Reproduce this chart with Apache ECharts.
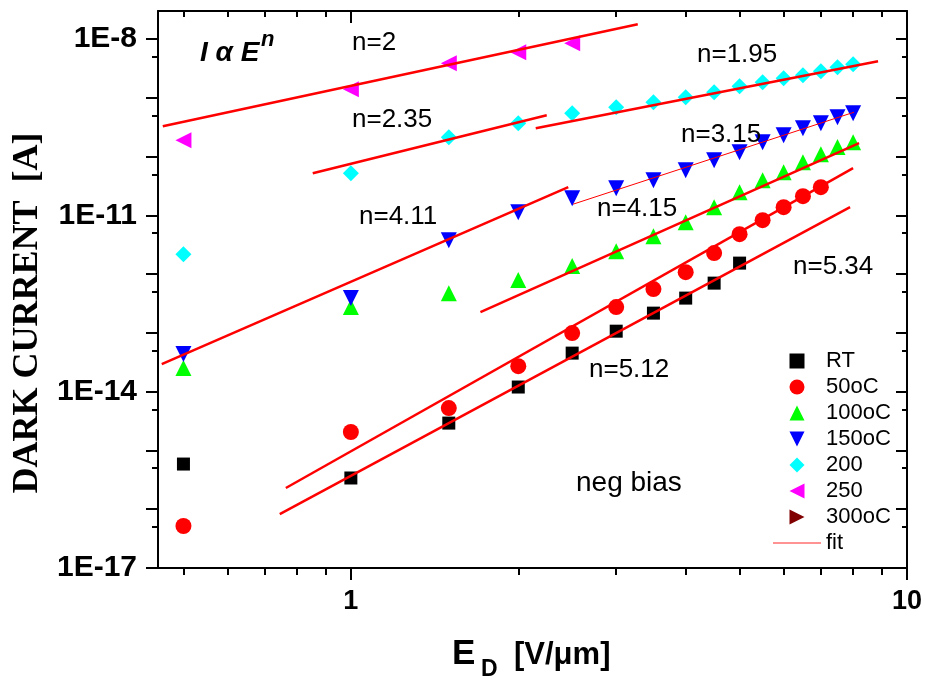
<!DOCTYPE html>
<html><head><meta charset="utf-8">
<script src="https://cdn.jsdelivr.net/npm/echarts@6/dist/echarts.min.js"></script>
<style>html,body{margin:0;padding:0;background:#fff}#c{width:925px;height:681px}</style>
</head><body><div id="c"></div>
<script>
// ---- data (E in V/um, I in A) ----
const E_RT  = [0.5,1,1.5,2,2.5,3,3.5,4,4.5,5];
const I_RT  = [5.87e-16,3.40e-16,2.92e-15,1.20e-14,4.53e-14,1.07e-13,2.17e-13,3.91e-13,7.03e-13,1.54e-12];
const E_50  = [0.5,1,1.5,2,2.5,3,3.5,4,4.5,5,5.5,6,6.5,7];
const I_50  = [5.18e-17,2.06e-15,5.26e-15,2.72e-14,9.93e-14,2.75e-13,5.56e-13,1.08e-12,2.28e-12,4.79e-12,8.28e-12,1.38e-11,2.12e-11,3.02e-11];
const E_100 = [0.5,1,1.5,2,2.5,3,3.5,4,4.5,5,5.5,6,6.5,7,7.5,8];
const I_100 = [2.52e-14,2.75e-13,4.75e-13,7.91e-13,1.37e-12,2.46e-12,4.43e-12,7.66e-12,1.38e-11,2.48e-11,3.97e-11,5.43e-11,8.04e-11,1.10e-10,1.45e-10,1.76e-10];
const E_150 = [0.5,1,1.5,2,2.5,3,3.5,4,4.5,5,5.5,6,6.5,7,7.5,8];
const I_150 = [4.36e-14,3.91e-13,3.78e-12,1.13e-11,1.96e-11,2.90e-11,3.97e-11,5.87e-11,8.69e-11,1.19e-10,1.76e-10,2.31e-10,3.04e-10,3.70e-10,4.68e-10,5.47e-10];
const E_200 = [0.5,1,1.5,2,2.5,3,3.5,4,4.5,5,5.5,6,6.5,7,7.5,8];
const I_200 = [2.19e-12,5.22e-11,2.14e-10,3.70e-10,5.47e-10,6.92e-10,8.41e-10,1.02e-9,1.24e-9,1.57e-9,1.84e-9,2.15e-9,2.42e-9,2.83e-9,3.31e-9,3.72e-9];
const E_250 = [0.5,1,1.5,2,2.5];
const I_250 = [1.90e-10,1.40e-9,3.87e-9,5.97e-9,8.49e-9];
const E_300 = [];
const I_300 = [];

// fit line end points [E, I]
const FIT_N2    = [[0.459,3.29e-10],[3.28,1.79e-8]];
const FIT_N235  = [[0.854,5.22e-11],[2.25,5.06e-10]];
const FIT_N195  = [[2.15,3.04e-10],[8.87,4.19e-9]];
const FIT_N315  = [[2.51,1.55e-11],[8.03,5.69e-10]];
const FIT_N411  = [[0.457,2.94e-14],[2.46,3.02e-11]];
const FIT_N415  = [[1.71,2.26e-13],[8.20,1.69e-10]];
const FIT_N534  = [[0.764,2.30e-16],[8.00,6.35e-11]];
const FIT_N512  = [[0.745,8.28e-17],[7.90,1.38e-11]];

// axis ranges and ticks
const X_MIN = 0.45, X_MAX = 10;
const Y_MIN = 1e-17, Y_MAX = 3e-8;
const X_MAJOR = [1,10];
const X_MINOR = [0.5,0.6,0.7,0.8,0.9,2,3,4,5,6,7,8,9];
const Y_MAJOR = [1e-17,1e-16,1e-15,1e-14,1e-13,1e-12,1e-11,1e-10,1e-9,1e-8];
const Y_MINOR = [5e-17,5e-16,5e-15,5e-14,5e-13,5e-12,5e-11,5e-10,5e-9];
const Y_LABELS = [1e-17,1e-14,1e-11,1e-8];

const lg = Math.log10;
const zip = (a,b) => a.map((v,i)=>[v,b[i]]);

const FONT = '"Liberation Sans", Arial, sans-serif';
const black = '#000';

function helperX(pos, ticks, len, inside, withLine, labels) {
  return {
    type:'value', position:pos, min:lg(X_MIN), max:lg(X_MAX),
    axisLine:{show:withLine, onZero:false, lineStyle:{color:black,width:2}},
    axisTick:{show:true, inside:inside, length:len, customValues:ticks.map(lg), lineStyle:{color:black,width:2}},
    axisLabel: labels ? {show:true, customValues:labels.map(lg), margin:20, color:black,
        fontFamily:FONT, fontWeight:'bold', fontSize:27, showMinLabel:true, showMaxLabel:true, hideOverlap:false,
        formatter:v=>String(Math.round(Math.pow(10,v)))} : {show:false},
    splitLine:{show:false}
  };
}
function helperY(pos, ticks, len, inside, withLine, labels) {
  return {
    type:'value', position:pos, min:lg(Y_MIN), max:lg(Y_MAX),
    axisLine:{show:withLine, onZero:false, lineStyle:{color:black,width:2}},
    axisTick:{show:true, inside:inside, length:len, customValues:ticks.map(lg), lineStyle:{color:black,width:2}},
    axisLabel: labels ? {show:true, customValues:labels.map(lg), margin:21, color:black,
        fontFamily:FONT, fontWeight:'bold', fontSize:30, showMinLabel:true, showMaxLabel:true, hideOverlap:false,
        formatter:v=>'1E'+Math.round(v)} : {show:false},
    splitLine:{show:false}
  };
}

const scatter = (name, E, I, symbol, size, color, rot) => ({
  name, type:'scatter', data:zip(E,I), symbol, symbolSize:size, symbolRotate:rot||0,
  itemStyle:{color, opacity:1}, z:3, xAxisIndex:0, yAxisIndex:0
});
const fit = (pts, w) => ({
  name:'fit', type:'line', data:pts, symbol:'none', showSymbol:false,
  lineStyle:{color:'#ff0000', width:w}, itemStyle:{color:'#ff0000'}, z:5,
  xAxisIndex:0, yAxisIndex:0
});

// legend icon shapes
const ICON = {
  square:'path://M0,0L10,0L10,10L0,10Z',
  circle:'path://M5,0A5,5,0,1,1,5,10A5,5,0,1,1,5,0Z',
  up:'path://M5,0L10,10L0,10Z',
  down:'path://M0,0L10,0L5,10Z',
  diamond:'path://M5,0L10,5L5,10L0,5Z',
  left:'path://M0,5L10,0L10,10Z',
  right:'path://M0,0L10,5L0,10Z',
  line:'path://M0,0L48,0L48,1.4L0,1.4Z'
};

const option = {
  animation:false,
  backgroundColor:'#fff',
  grid:{left:158, right:18, top:11, bottom:113, containLabel:false, outerBoundsMode:'none'},
  xAxis:[
    {type:'log', logBase:10, min:X_MIN, max:X_MAX, position:'bottom',
     axisLine:{show:false}, axisTick:{show:false}, axisLabel:{show:false}, splitLine:{show:false}, minorTick:{show:false}},
    helperX('bottom', X_MAJOR, 12, false, true, X_MAJOR),
    helperX('bottom', X_MINOR, 7, false, false, null),
    helperX('top', X_MAJOR, 12, true, true, null),
    helperX('top', X_MINOR, 6, true, false, null)
  ],
  yAxis:[
    {type:'log', logBase:10, min:Y_MIN, max:Y_MAX, position:'left',
     axisLine:{show:false}, axisTick:{show:false}, axisLabel:{show:false}, splitLine:{show:false}, minorTick:{show:false}},
    helperY('left', Y_MAJOR, 12, false, true, Y_LABELS),
    helperY('left', Y_MINOR, 6, false, false, null),
    helperY('right', Y_MAJOR, 11, true, true, null),
    helperY('right', Y_MINOR, 5, true, false, null)
  ],
  legend:{
    orient:'vertical', left:773, top:350, padding:0, itemWidth:48, itemHeight:15, itemGap:4,
    selectedMode:false, symbolKeepAspect:true,
    textStyle:{fontFamily:FONT, fontSize:22, lineHeight:22, color:black},
    data:[
      {name:'RT', icon:ICON.square},
      {name:'50oC', icon:ICON.circle},
      {name:'100oC', icon:ICON.up},
      {name:'150oC', icon:ICON.down},
      {name:'200', icon:ICON.diamond},
      {name:'250', icon:ICON.left},
      {name:'300oC', icon:ICON.right},
      {name:'fit', icon:ICON.line, itemStyle:{color:'#ff6f6f', borderWidth:0}}
    ]
  },
  series:[
    scatter('RT', E_RT, I_RT, 'rect', 13, '#000000'),
    scatter('50oC', E_50, I_50, 'circle', 16, '#ff0000'),
    scatter('100oC', E_100, I_100, 'triangle', 16, '#00ff00'),
    scatter('150oC', E_150, I_150, 'triangle', 16, '#0000ff', 180),
    scatter('200', E_200, I_200, 'diamond', 16, '#00ffff'),
    scatter('250', E_250, I_250, 'triangle', 16, '#ff00ff', 90),
    scatter('300oC', E_300, I_300, 'triangle', 16, '#800000', -90),
    fit(FIT_N2, 2.5), fit(FIT_N235, 2.5), fit(FIT_N195, 2.5), fit(FIT_N315, 1),
    fit(FIT_N411, 2.5), fit(FIT_N415, 2.5), fit(FIT_N534, 2.5), fit(FIT_N512, 2.5)
  ],
  graphic:[
    {type:'text', x:28, y:313, rotation:Math.PI/2, z:10,
     style:{text:'DARK CURRENT  [A]', font:'bold 36px "Liberation Serif", "Times New Roman", serif', fill:black, textAlign:'center', textVerticalAlign:'middle'}},
    {type:'text', x:452, y:654, z:10, style:{text:'E', font:'bold 35px '+FONT, fill:black, textVerticalAlign:'middle'}},
    {type:'text', x:481, y:670, z:10, style:{text:'D', font:'bold 23px '+FONT, fill:black, textVerticalAlign:'middle'}},
    {type:'text', x:514, y:655, z:10, style:{text:'[V/\u03bcm]', font:'bold 31px '+FONT, fill:black, textVerticalAlign:'middle'}},
    {type:'text', x:200, y:53, z:10, style:{text:'I \u03b1 E', font:'italic bold 28px '+FONT, fill:black, textVerticalAlign:'middle'}},
    {type:'text', x:261, y:40, z:10, style:{text:'n', font:'italic bold 22px '+FONT, fill:black, textVerticalAlign:'middle'}},
    {type:'text', x:352, y:43, z:10, style:{text:'n=2', font:'26px '+FONT, fill:black, textVerticalAlign:'middle'}},
    {type:'text', x:697, y:55, z:10, style:{text:'n=1.95', font:'26px '+FONT, fill:black, textVerticalAlign:'middle'}},
    {type:'text', x:352, y:120, z:10, style:{text:'n=2.35', font:'26px '+FONT, fill:black, textVerticalAlign:'middle'}},
    {type:'text', x:681, y:135, z:10, style:{text:'n=3.15', font:'26px '+FONT, fill:black, textVerticalAlign:'middle'}},
    {type:'text', x:359, y:217, z:10, style:{text:'n=4.11', font:'26px '+FONT, fill:black, textVerticalAlign:'middle'}},
    {type:'text', x:597, y:209, z:10, style:{text:'n=4.15', font:'26px '+FONT, fill:black, textVerticalAlign:'middle'}},
    {type:'text', x:793, y:267, z:10, style:{text:'n=5.34', font:'26px '+FONT, fill:black, textVerticalAlign:'middle'}},
    {type:'text', x:589, y:370, z:10, style:{text:'n=5.12', font:'26px '+FONT, fill:black, textVerticalAlign:'middle'}},
    {type:'text', x:576, y:483, z:10, style:{text:'neg bias', font:'28px '+FONT, fill:black, textVerticalAlign:'middle'}}
  ]
};

const chart = echarts.init(document.getElementById('c'), null, {renderer:'canvas'});
chart.setOption(option);
</script>
</body></html>
